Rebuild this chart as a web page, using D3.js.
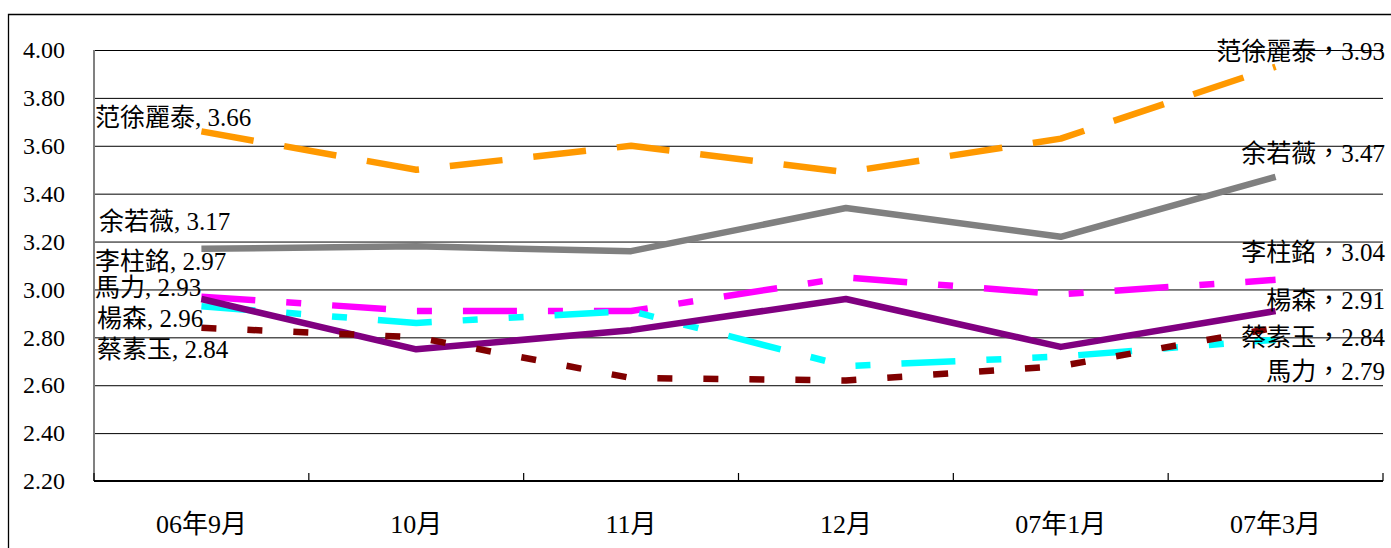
<!DOCTYPE html>
<html lang="zh-Hant">
<head>
  <meta charset="utf-8">
  <title>D3 : 議員評分走勢</title>
  <script type="text/javascript" src="https://d3js.org/d3.v7.min.js"></script>
  <style>
  body { margin: 0; background: #fff; }
  svg { font-family: "Liberation Serif", "Noto Sans CJK TC", serif; }
  </style>
</head>
<body>
  <script>
  // data
  var categories = ["06年9月", "10月", "11月", "12月", "07年1月", "07年3月"];
  var names = ["范徐麗泰", "余若薇", "李柱銘", "馬力", "楊森", "蔡素玉"];
  var fanXu   = [3.66, 3.50, 3.60, 3.49, 3.63, 3.93];
  var yuJo    = [3.17, 3.18, 3.16, 3.34, 3.22, 3.47];
  var leeChu  = [2.97, 2.91, 2.91, 3.05, 2.98, 3.04];
  var maLik   = [2.93, 2.86, 2.91, 2.68, 2.72, 2.79];
  var yeungS  = [2.96, 2.75, 2.83, 2.96, 2.76, 2.91];
  var choiSo  = [2.84, 2.80, 2.63, 2.62, 2.68, 2.84];
  var yTicks = [2.2, 2.4, 2.6, 2.8, 3.0, 3.2, 3.4, 3.6, 3.8, 4.0];

  var values = [fanXu, yuJo, leeChu, maLik, yeungS, choiSo];

  // styles per series (same order as names)
  var colors = ["#ff9900", "#808080", "#ff00ff", "#00ffff", "#800080", "#800000"];
  var dashes = ["53,31", null, "54,31,15,31", "54,31,15,31,15,31", null, "15,31"];
  // label offsets from first / last point
  var leftDx  = [1, 5, 1, 1, 3, 3];
  var leftDy  = [-14, -27, -35, -19, 19, 22];
  var rightDy = [-15, -23, -27, 32, -10, 10];

  var W = 1391, H = 548;
  var margin = {top: 50, left: 94, right: 8, bottom: 67};
  var plotW = 1383 - margin.left,
      plotH = 481 - margin.top;

  var svg = d3.select("body").append("svg")
    .attr("width", W)
    .attr("height", H);

  // outer frame
  svg.append("path")
    .attr("d", "M 8.5," + H + " L 8.5,14.5 L " + W + ",14.5")
    .attr("fill", "none")
    .attr("stroke", "#000")
    .attr("stroke-width", 1.3);

  var g = svg.append("g")
    .attr("transform", "translate(" + margin.left + "," + margin.top + ")");

  var x = d3.scaleBand().domain(categories).range([0, plotW]);
  var y = d3.scaleLinear().domain([2.2, 4.0]).range([plotH, 0]);

  // grid
  g.append("g")
    .call(d3.axisLeft(y).tickValues(yTicks).tickSize(-plotW).tickFormat(""))
    .call(function(s) {
      s.select(".domain").remove();
      s.selectAll("line").attr("stroke", "#000").attr("stroke-width", 1);
    });

  // y axis labels
  g.append("g")
    .call(d3.axisLeft(y).tickValues(yTicks).tickSize(0).tickPadding(29).tickFormat(d3.format(".2f")))
    .call(function(s) {
      s.select(".domain").remove();
      s.selectAll("text")
        .attr("font-family", "Liberation Serif, serif")
        .attr("font-size", 24)
        .attr("fill", "#000");
    });

  // y axis line
  g.append("line")
    .attr("x1", 0).attr("x2", 0)
    .attr("y1", 0).attr("y2", plotH)
    .attr("stroke", "#808080")
    .attr("stroke-width", 2);

  // x axis line + boundary ticks
  g.append("line")
    .attr("x1", 0).attr("x2", plotW)
    .attr("y1", plotH).attr("y2", plotH)
    .attr("stroke", "#000")
    .attr("stroke-width", 2);

  var bounds = categories.map(function(c) { return x(c); }).concat([plotW]);
  g.selectAll(".xtick").data(bounds).enter().append("line")
    .attr("class", "xtick")
    .attr("x1", function(d) { return d; })
    .attr("x2", function(d) { return d; })
    .attr("y1", plotH)
    .attr("y2", plotH - 8)
    .attr("stroke", "#000")
    .attr("stroke-width", 1.2);

  g.selectAll(".xlabel").data(categories).enter().append("text")
    .attr("class", "xlabel")
    .attr("x", function(d) { return x(d) + x.bandwidth() / 2; })
    .attr("y", plotH + 43)
    .attr("text-anchor", "middle")
    .attr("dominant-baseline", "central")
    .attr("font-size", 26)
    .text(function(d) { return d; });

  // lines
  var line = d3.line()
    .x(function(d, i) { return x(categories[i]) + x.bandwidth() / 2; })
    .y(function(d) { return y(d); });

  values.forEach(function(v, k) {
    g.append("path")
      .datum(v)
      .attr("d", line)
      .attr("fill", "none")
      .attr("stroke", colors[k])
      .attr("stroke-width", 6.5)
      .attr("stroke-linejoin", "round")
      .attr("stroke-dasharray", dashes[k]);
  });

  // data labels
  var last = categories.length - 1;
  values.forEach(function(v, k) {
    g.append("text")
      .attr("x", leftDx[k])
      .attr("y", y(v[0]) + leftDy[k])
      .attr("dominant-baseline", "central")
      .attr("font-size", 25)
      .attr("fill", "#000")
      .text(names[k] + ", " + v[0].toFixed(2));

    g.append("text")
      .attr("x", plotW + 2)
      .attr("y", y(v[last]) + rightDy[k])
      .attr("text-anchor", "end")
      .attr("dominant-baseline", "central")
      .attr("font-size", 25)
      .attr("fill", "#000")
      .text(names[k] + "，" + v[last].toFixed(2));
  });
  </script>
</body>
</html>
